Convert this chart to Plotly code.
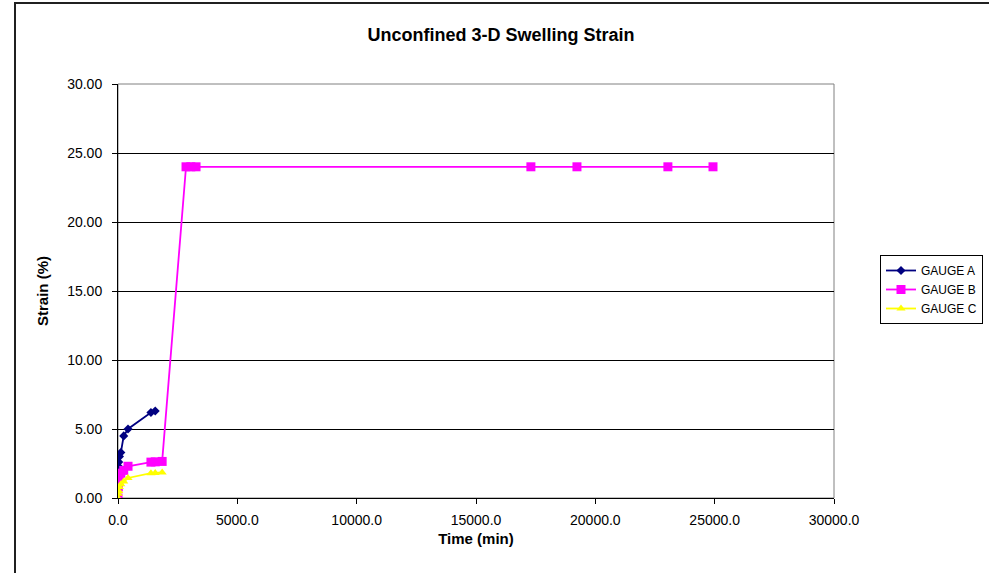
import plotly.graph_objects as go

# Data (time in minutes, strain in %)
time_a = [0, 15, 30, 60, 120, 240, 420, 1380, 1560]
gauge_a = [0.0, 2.3, 2.6, 3.0, 3.3, 4.5, 5.0, 6.2, 6.3]

time_b = [0, 15, 30, 60, 120, 240, 420, 1380, 1560, 1850, 2850, 3050, 3270, 17300, 19230, 23040, 24930]
gauge_b = [0.0, 0.8, 1.2, 1.5, 1.8, 2.0, 2.3, 2.6, 2.62, 2.65, 24.0, 24.0, 24.0, 24.0, 24.0, 24.0, 24.0]

time_c = [0, 15, 30, 60, 120, 240, 420, 1380, 1560, 1850]
gauge_c = [0.0, 0.3, 0.5, 0.8, 1.0, 1.2, 1.45, 1.8, 1.82, 1.85]

x_ticks = [0, 5000, 10000, 15000, 20000, 25000, 30000]
y_ticks = [0, 5, 10, 15, 20, 25, 30]

FONT = "Liberation Sans, Arial, sans-serif"

fig = go.Figure()
fig.add_trace(go.Scatter(x=time_a, y=gauge_a, mode="lines+markers", name="GAUGE A",
                         line=dict(color="#000080", width=1.8),
                         marker=dict(symbol="diamond", size=7, color="#000080")))
fig.add_trace(go.Scatter(x=time_b, y=gauge_b, mode="lines+markers", name="GAUGE B",
                         line=dict(color="#FF00FF", width=1.8),
                         marker=dict(symbol="square", size=9, color="#FF00FF")))
fig.add_trace(go.Scatter(x=time_c, y=gauge_c, mode="lines+markers", name="GAUGE C",
                         line=dict(color="#FFFF00", width=1.8),
                         marker=dict(symbol="triangle-up", size=8, color="#FFFF00")))

W, H = 989, 573
L, T = 118, 84
R, B = W - 834, H - 498
pw, ph = W - L - R, H - T - B

def px(xs):  # screen x -> paper
    return (xs - L) / pw

def py(ys):  # screen y -> paper
    return (H - B - ys) / ph

fig.update_layout(
    width=W, height=H,
    margin=dict(l=L, r=R, t=T, b=B, pad=0, autoexpand=False),
    paper_bgcolor="white", plot_bgcolor="white",
    font=dict(family=FONT, size=14, color="black"),
    title=dict(text="<b>Unconfined 3-D Swelling Strain</b>", x=501 / W, xanchor="center",
               y=1 - 35 / H, yanchor="middle", font=dict(size=18, family=FONT)),
    xaxis=dict(range=[0, 30000], tickvals=x_ticks, tickformat=".1f",
               showgrid=False, zeroline=False, showline=True, linecolor="black", linewidth=1,
               ticks="outside", ticklen=5, tickcolor="black", ticklabelstandoff=4,
               title=dict(text="<b>Time (min)</b>", font=dict(size=15), standoff=6),
               tickfont=dict(size=14)),
    yaxis=dict(range=[0, 30], tickvals=y_ticks, tickformat=".2f",
               showgrid=True, gridcolor="black", gridwidth=1, zeroline=False,
               showline=True, linecolor="black", linewidth=1,
               ticks="outside", ticklen=5, tickcolor="black", ticklabelstandoff=7,
               title=dict(text="<b>Strain (%)</b>", font=dict(size=15), standoff=14),
               tickfont=dict(size=14)),
    legend=dict(x=px(880), y=py(255), xanchor="left", yanchor="top",
                bordercolor="black", borderwidth=1, bgcolor="white",
                font=dict(size=12, family=FONT), tracegroupgap=0, itemwidth=30),
    showlegend=True,
)

# Plot area border (right/top gray)
fig.add_shape(type="rect", xref="paper", yref="paper", x0=0, y0=0, x1=1, y1=1,
              line=dict(color="#808080", width=1), layer="below")
# Outer chart border (left and top edges visible)
fig.add_shape(type="path", xref="paper", yref="paper",
              path=f"M {px(15)},{py(580)} L {px(15)},{py(3)} L {px(1000)},{py(3)}",
              line=dict(color="#202020", width=2))

fig.write_html("out.html", config={"displayModeBar": False},
               post_script="document.body.style.margin='0px';")
